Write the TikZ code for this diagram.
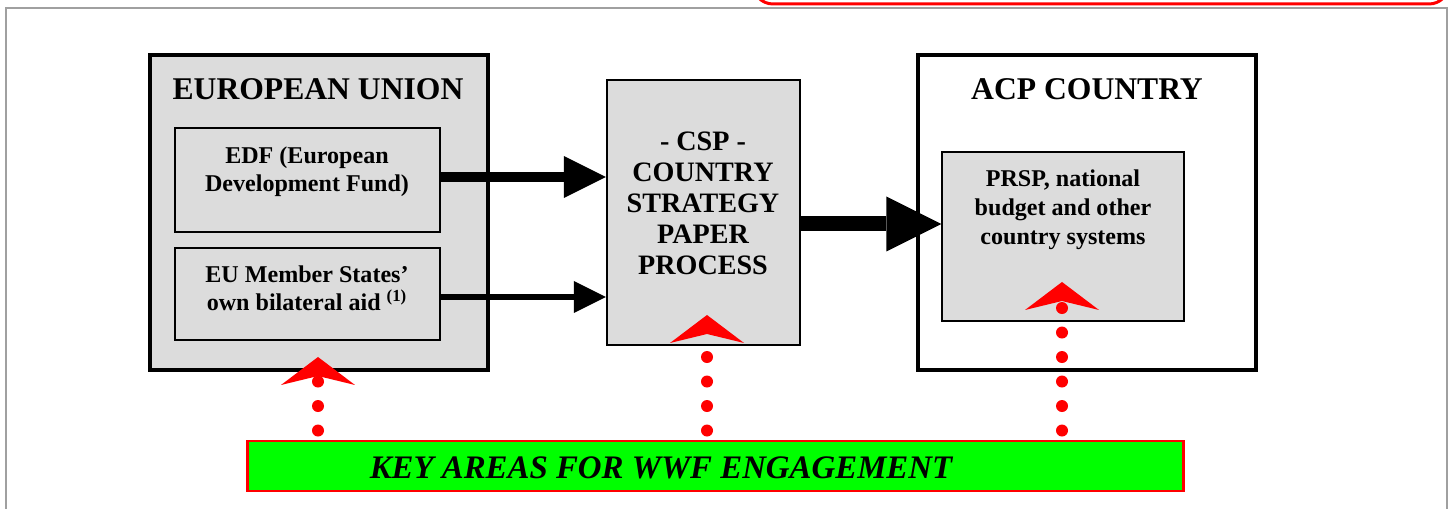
\documentclass[tikz,border=0pt]{standalone}
\usepackage{fontspec}
\setmainfont{Liberation Serif}
\usetikzlibrary{arrows.meta,calc,positioning}
\definecolor{boxgray}{HTML}{DCDCDC}
\definecolor{wwfgreen}{HTML}{00FF00}
\definecolor{framegray}{HTML}{A0A0A0}
\tikzset {
  >=Stealth,
  every node/.style={font=\bfseries},
  outerbox/.style={draw,line width=2pt,inner sep=0pt},
  innerbox/.style={draw,line width=0.8pt,fill=boxgray,inner sep=0pt},
  title/.style={font=\fontsize{18}{20}\selectfont\bfseries},
  boxtext/.style={font=\fontsize{13.7}{16}\selectfont\bfseries,align=center,inner sep=0pt},
  csptext/.style={font=\fontsize{16}{17.6}\selectfont\bfseries,align=center,inner sep=0pt},
  flow/.style={line width=#1},
  wwfdots/.style={red,line width=0.24cm,line cap=round,dash pattern=on 0pt off 0.49cm,
    -{Stealth[length=0.56cm,width=1.48cm,inset=0.18cm,line width=0pt]},shorten <=0.18cm},
}
\begin{document}
\begin{tikzpicture}[x=0.02cm,y=-0.02cm]
  \useasboundingbox (0,0) rectangle (1453,509);
  % page frame and the cut-off box above it
  \draw[framegray,line width=1.1pt] (6,8) rectangle (1447,530);
  \draw[red,line width=1.7pt,rounded corners=0.4cm] (753,-40) rectangle (1449,4);
  % european union
  \node[outerbox,fill=boxgray,minimum width=6.76cm,minimum height=6.3cm] (eu) at (319,212.5) {};
  \node[title] (eutitle) at (318,89) {EUROPEAN UNION};
  \node[innerbox,minimum width=5.3cm,minimum height=2.08cm] (edf) at (307.5,180) {};
  \node[boxtext] (edftext) at (307,172) {EDF (European\\Development Fund)};
  \node[innerbox,minimum width=5.3cm,minimum height=1.84cm] (member) at (307.5,294) {};
  \node[boxtext] (membertext) at (307,288) {EU Member States’\\own bilateral aid \textsuperscript{(1)}};
  % strategy paper
  \node[draw,line width=1.2pt,fill=boxgray,minimum width=3.86cm,minimum height=5.3cm] (csp) at (703.5,212.5) {};
  \node[csptext] (csptext) at (703,203) {- CSP -\\COUNTRY\\STRATEGY\\PAPER\\PROCESS};
  % acp country
  \node[outerbox,fill=white,minimum width=6.76cm,minimum height=6.3cm] (acp) at (1087,212.5) {};
  \node[title] (acptitle) at (1087,89) {ACP COUNTRY};
  \node[innerbox,minimum width=4.84cm,minimum height=3.38cm] (prsp) at (1063,236.5) {};
  \node[boxtext,font=\fontsize{13.7}{16.5}\selectfont\bfseries] (prsptext) at (1063,210) {PRSP, national\\budget and other\\country systems};
  % money flows
  \draw[flow=0.2cm,-{Triangle[length=0.84cm,width=0.84cm,line width=0pt]}] ([yshift=0.06cm]edf.east) -- ([yshift=0.06cm]edf.east -| csp.west);
  \draw[flow=0.12cm,-{Triangle[length=0.64cm,width=0.64cm,line width=0pt]}] ([yshift=-0.06cm]member.east) -- ([yshift=-0.06cm]member.east -| csp.west);
  \draw[flow=0.3cm,-{Triangle[length=1.1cm,width=1.1cm,line width=0pt]}] ([yshift=-0.23cm]csp.east) -- ([yshift=-0.23cm]csp.east -| prsp.west);
  % engagement bar
  \node[draw=red,line width=1.7pt,fill=wwfgreen,minimum width=18.74cm,minimum height=1cm] (key) at (715.5,466) {};
  \node[font=\fontsize{18.7}{20}\selectfont\bfseries\itshape,inner sep=0pt] (keytext) at (661,468) {KEY AREAS FOR WWF ENGAGEMENT};
  \coordinate (tipeu) at (318,357);
  \coordinate (tipcsp) at (707,315);
  \coordinate (tipacp) at (1062,282);
  \draw[wwfdots] (key.north -| tipeu) -- (tipeu);
  \draw[wwfdots] (key.north -| tipcsp) -- (tipcsp);
  \draw[wwfdots] (key.north -| tipacp) -- (tipacp);
\end{tikzpicture}
\end{document}
